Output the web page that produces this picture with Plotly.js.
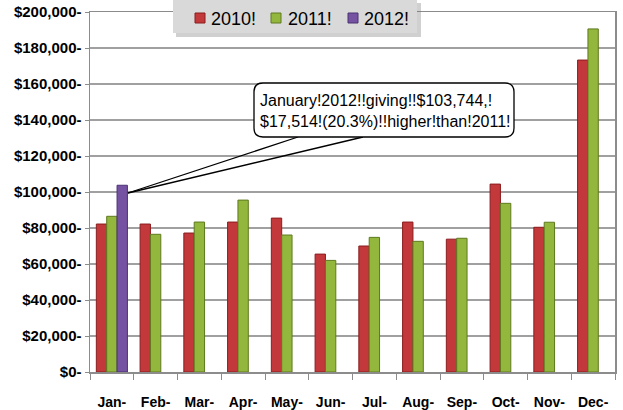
<!DOCTYPE html>
<html>
<head>
<meta charset="utf-8">
<script src="https://cdn.plot.ly/plotly-3.0.1.min.js"></script>
<style>html,body{margin:0;padding:0;background:#fff;}#chart{width:623px;height:410px;}</style>
</head>
<body>
<div id="chart"></div>
<script>
// ---- data ----
var months = ['Jan-','Feb-','Mar-','Apr-','May-','Jun-','Jul-','Aug-','Sep-','Oct-','Nov-','Dec-'];
var seriesNames = ['2010!','2011!','2012!'];
var giving2010 = [82200, 82200, 77200, 83300, 85500, 65500, 70000, 83300, 73800, 104400, 80400, 173300];
var giving2011 = [86500, 76500, 83300, 95500, 76100, 62000, 74800, 72600, 74300, 93700, 83200, 190600];
var giving2012 = [103744, null, null, null, null, null, null, null, null, null, null, null];
var calloutLines = ['January!2012!!giving!!$103,744,!', '$17,514!(20.3%)!!higher!than!2011!'];

// ---- style ----
var FONT = 'Liberation Sans, Arial, sans-serif';
var fills = ['#c3383a', '#93b63c', '#7653a2'];
var edges = ['#8a1d1f', '#5e7a1f', '#4b3273'];
var W = 525, H = 360, L = 90, T = 12;
function px(x){ return (x - L) / W; }
function py(y){ return (T + H - y) / H; }

var allSeries = [giving2010, giving2011, giving2012];
var traces = allSeries.map(function(vals, i){
  return {
    type: 'bar', x: months, y: vals, name: seriesNames[i],
    marker: {color: fills[i], line: {color: edges[i], width: 1}},
    hoverinfo: 'skip', showlegend: false
  };
});

// rounded callout box path in paper coords
var bx0 = px(254), bx1 = px(514), by0 = py(137), by1 = py(83);
var rx = 9 / W, ry = 9 / H;
var boxPath = 'M ' + (bx0 + rx) + ',' + by1 +
  ' L ' + (bx1 - rx) + ',' + by1 +
  ' Q ' + bx1 + ',' + by1 + ' ' + bx1 + ',' + (by1 - ry) +
  ' L ' + bx1 + ',' + (by0 + ry) +
  ' Q ' + bx1 + ',' + by0 + ' ' + (bx1 - rx) + ',' + by0 +
  ' L ' + (bx0 + rx) + ',' + by0 +
  ' Q ' + bx0 + ',' + by0 + ' ' + bx0 + ',' + (by0 + ry) +
  ' L ' + bx0 + ',' + (by1 - ry) +
  ' Q ' + bx0 + ',' + by1 + ' ' + (bx0 + rx) + ',' + by1 + ' Z';

var apexX = px(128), apexY = py(193);
var shapes = [
  // legend shadow + box
  {type: 'rect', xref: 'paper', yref: 'paper', x0: px(176), x1: px(421), y0: py(37), y1: py(3),
   fillcolor: 'rgba(120,120,120,0.35)', line: {width: 0}, layer: 'above'},
  {type: 'rect', xref: 'paper', yref: 'paper', x0: px(173), x1: px(417), y0: py(33), y1: py(-2),
   fillcolor: '#d9d9d9', line: {width: 0}, layer: 'above'},
  // callout tail
  {type: 'line', xref: 'paper', yref: 'paper', x0: px(298), y0: by0, x1: apexX, y1: apexY,
   line: {color: '#000', width: 1.3}, layer: 'above'},
  {type: 'line', xref: 'paper', yref: 'paper', x0: px(363), y0: by0, x1: apexX, y1: apexY,
   line: {color: '#000', width: 1.3}, layer: 'above'},
  // callout box
  {type: 'path', xref: 'paper', yref: 'paper', path: boxPath,
   fillcolor: '#ffffff', line: {color: '#000', width: 1.3}, layer: 'above'}
];

var annotations = [{
  xref: 'paper', yref: 'paper', x: px(258), y: py(111), xanchor: 'left', yanchor: 'middle',
  text: calloutLines.join('<br>'), showarrow: false, align: 'left',
  font: {family: FONT, size: 16, color: '#000'}
}];

// custom legend
var legSq = [195, 271, 348];
var legTx = [209, 286, 362];
seriesNames.forEach(function(n, i){
  shapes.push({type: 'rect', xref: 'paper', yref: 'paper', x0: px(legSq[i]), x1: px(legSq[i] + 10),
    y0: py(23), y1: py(13), fillcolor: fills[i], line: {color: edges[i], width: 1}, layer: 'above'});
  annotations.push({xref: 'paper', yref: 'paper', x: px(legTx[i]), y: py(19), xanchor: 'left', yanchor: 'middle',
    text: n, showarrow: false, font: {family: FONT, size: 18, color: '#000'}});
});

var layout = {
  width: 623, height: 410,
  margin: {l: L, r: 623 - L - W, t: T, b: 410 - T - H, pad: 0},
  paper_bgcolor: '#ffffff', plot_bgcolor: '#ffffff',
  barmode: 'group', bargap: 0.29, bargroupgap: 0,
  showlegend: false,
  font: {family: FONT, color: '#000'},
  xaxis: {
    type: 'category', categoryorder: 'array', categoryarray: months,
    tickson: 'boundaries', ticks: 'outside', ticklen: 6, tickcolor: '#8c8c8c', tickwidth: 1,
    showline: true, linecolor: '#8c8c8c', linewidth: 1.5, mirror: true,
    showgrid: false, ticklabelstandoff: 17,
    tickfont: {family: FONT, size: 14, color: '#000', weight: 'bold'}
  },
  yaxis: {
    range: [0, 200000], dtick: 20000, tick0: 0,
    tickprefix: '$', ticksuffix: '-', tickformat: ',d',
    ticks: 'outside', ticklen: 4, tickcolor: '#8c8c8c',
    showline: true, linecolor: '#8c8c8c', linewidth: 1.5, mirror: true,
    showgrid: true, gridcolor: '#a0a0a0', gridwidth: 1.5, zeroline: false,
    tickfont: {family: FONT, size: 15, color: '#000', weight: 'bold'}
  },
  shapes: shapes,
  annotations: annotations
};

Plotly.newPlot('chart', traces, layout, {staticPlot: true, displayModeBar: false});
</script>
</body>
</html>
